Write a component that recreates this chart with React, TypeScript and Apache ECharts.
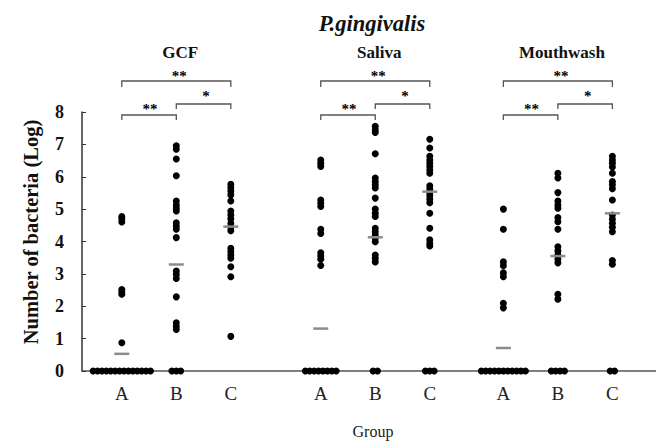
import React, { useEffect, useRef } from "react";
import * as echarts from "echarts";

// ---- data ----
const sites = ["GCF", "Saliva", "Mouthwash"];
const columnLabels = ["A", "B", "C", "A", "B", "C", "A", "B", "C"];
// column centres on the x value axis (layout)
const columnX = [1, 2, 3, 4.65, 5.65, 6.65, 8, 9, 10];

const gcfA = [4.77, 4.7, 4.6, 2.52, 2.44, 2.37, 0.87, 0, 0, 0, 0, 0, 0, 0, 0, 0, 0, 0, 0, 0, 0];
const gcfB = [6.96, 6.85, 6.55, 6.03, 5.25, 5.13, 5.03, 4.94, 4.58, 4.48, 4.38, 4.12, 3.09, 2.98, 2.86, 2.29, 1.49, 1.38, 1.28, 0, 0, 0];
const gcfC = [5.77, 5.67, 5.56, 5.44, 5.25, 4.94, 4.82, 4.7, 4.56, 4.44, 4.33, 3.79, 3.69, 3.58, 3.48, 3.22, 2.91, 1.07];
const salivaA = [6.52, 6.42, 6.32, 5.28, 5.18, 5.08, 4.38, 4.25, 3.65, 3.55, 3.45, 3.26, 0, 0, 0, 0, 0, 0, 0, 0];
const salivaB = [7.56, 7.45, 7.37, 6.71, 5.96, 5.85, 5.75, 5.65, 5.34, 5.0, 4.87, 4.77, 4.41, 4.3, 4.2, 4.1, 3.99, 3.58, 3.48, 3.37, 0, 0];
const salivaC = [7.16, 6.89, 6.63, 6.52, 6.42, 6.32, 6.21, 6.11, 5.72, 5.62, 5.51, 5.41, 5.31, 5.2, 4.87, 4.41, 4.05, 3.94, 3.86, 0, 0, 0];
const mouthwashA = [5.0, 4.38, 3.37, 3.25, 3.03, 2.91, 2.09, 1.95, 0, 0, 0, 0, 0, 0, 0, 0, 0, 0, 0];
const mouthwashB = [6.11, 5.96, 5.51, 5.25, 5.13, 5.03, 4.74, 4.61, 4.38, 3.84, 3.71, 3.58, 3.46, 3.34, 2.37, 2.22, 0, 0, 0, 0];
const mouthwashC = [6.63, 6.52, 6.42, 6.3, 6.11, 5.85, 5.75, 5.63, 5.28, 4.82, 4.69, 4.56, 4.44, 4.3, 3.41, 3.3, 0, 0];

const gcfMeans = [0.53, 3.29, 4.46];
const salivaMeans = [1.31, 4.13, 5.54];
const mouthwashMeans = [0.71, 3.55, 4.87];

const yTicks = [0, 1, 2, 3, 4, 5, 6, 7, 8];
const significance = ["**", "*", "**"]; // A-C, B-C, A-B

const columns = [gcfA, gcfB, gcfC, salivaA, salivaB, salivaC, mouthwashA, mouthwashB, mouthwashC];
const means = [...gcfMeans, ...salivaMeans, ...mouthwashMeans];

const ZERO_STEP = 0.081; // horizontal dodge for identical zero values
const SERIF = '"Liberation Serif", "Times New Roman", serif';

export default function App() {
  const ref = useRef<HTMLDivElement>(null);
  useEffect(() => {
    if (!ref.current) return;
    const chart = echarts.init(ref.current, undefined, { renderer: "svg" });

    const dots: number[][] = [];
    columns.forEach((vals, c) => {
      const nz = vals.filter((v) => v === 0).length;
      let zi = 0;
      vals.forEach((v) => {
        if (v === 0) {
          dots.push([columnX[c] + (zi - (nz - 1) / 2) * ZERO_STEP, 0]);
          zi++;
        } else {
          dots.push([columnX[c], v]);
        }
      });
    });
    const meanData = means.map((m, c) => [columnX[c], m]);

    chart.setOption({
      animation: false,
      backgroundColor: "#fff",
      grid: { left: 82, right: 0, top: 112, bottom: 70 },
      xAxis: {
        type: "value",
        min: 0.27,
        max: 10.8,
        axisLine: { show: true, lineStyle: { color: "#555", width: 1.5 } },
        axisTick: { show: false },
        splitLine: { show: false },
        axisLabel: {
          customValues: columnX,
          formatter: (v: number) => {
            const i = columnX.findIndex((x) => Math.abs(x - v) < 1e-6);
            return i >= 0 ? columnLabels[i] : "";
          },
          fontFamily: SERIF,
          fontSize: 19,
          color: "#222",
          margin: 13,
        },
      },
      yAxis: {
        type: "value",
        min: yTicks[0],
        max: yTicks[yTicks.length - 1],
        interval: 1,
        axisLine: { show: true, lineStyle: { color: "#333", width: 1.5 } },
        axisTick: { show: true, inside: true, length: 4, lineStyle: { color: "#333" } },
        splitLine: { show: false },
        axisLabel: {
          fontFamily: SERIF,
          fontWeight: "bold",
          fontSize: 18,
          color: "#111",
          margin: 18,
        },
      },
      series: [
        {
          type: "scatter",
          data: dots,
          symbol: "circle",
          symbolSize: 7,
          itemStyle: { color: "#000", opacity: 1 },
          clip: false,
          z: 3,
        },
        {
          type: "scatter",
          data: meanData,
          symbol: "rect",
          symbolSize: [15, 2.5],
          itemStyle: { color: "#8c8c8c", opacity: 1 },
          clip: false,
          z: 4,
        },
      ],
    });

    const px = (x: number) => chart.convertToPixel({ xAxisIndex: 0 }, x) as number;
    const graphics: any[] = [
      {
        type: "text",
        x: 372,
        y: 23,
        style: { text: "P.gingivalis", font: `italic bold 22.5px ${SERIF}`, fill: "#111", textAlign: "center", textVerticalAlign: "middle" },
      },
      {
        type: "text",
        x: 31,
        y: 232,
        rotation: Math.PI / 2,
        style: { text: "Number of bacteria (Log)", font: `bold 20.5px ${SERIF}`, fill: "#111", textAlign: "center", textVerticalAlign: "middle" },
      },
      {
        type: "text",
        x: 373,
        y: 431,
        style: { text: "Group", font: `16px ${SERIF}`, fill: "#222", textAlign: "center", textVerticalAlign: "middle" },
      },
    ];
    const stroke = { stroke: "#555", lineWidth: 1.3, fill: "none" };
    sites.forEach((site, s) => {
      const xa = px(columnX[3 * s]);
      const xb = px(columnX[3 * s + 1]);
      const xc = px(columnX[3 * s + 2]);
      graphics.push({
        type: "text",
        x: xb + 4,
        y: 52,
        style: { text: site, font: `bold 17px ${SERIF}`, fill: "#111", textAlign: "center", textVerticalAlign: "middle" },
      });
      graphics.push({ type: "polyline", shape: { points: [[xa, 87], [xa, 81], [xc, 81], [xc, 87]] }, style: stroke });
      graphics.push({ type: "polyline", shape: { points: [[xb, 109], [xb, 104], [xc, 104], [xc, 109]] }, style: stroke });
      graphics.push({ type: "polyline", shape: { points: [[xa, 120], [xa, 115], [xb, 115], [xb, 120]] }, style: stroke });
      const starFont = `bold 15px ${SERIF}`;
      graphics.push({ type: "text", x: (xa + xc) / 2 + 3, y: 76, style: { text: significance[0], font: starFont, fill: "#000", textAlign: "center", textVerticalAlign: "middle" } });
      graphics.push({ type: "text", x: (xb + xc) / 2 + 2.5, y: 96, style: { text: significance[1], font: starFont, fill: "#000", textAlign: "center", textVerticalAlign: "middle" } });
      graphics.push({ type: "text", x: (xa + xb) / 2 + 1, y: 109, style: { text: significance[2], font: starFont, fill: "#000", textAlign: "center", textVerticalAlign: "middle" } });
    });
    chart.setOption({ graphic: graphics });

    return () => chart.dispose();
  }, []);
  return <div ref={ref} style={{ position: "fixed", left: 0, top: 0, width: 656, height: 441 }} />;
}
